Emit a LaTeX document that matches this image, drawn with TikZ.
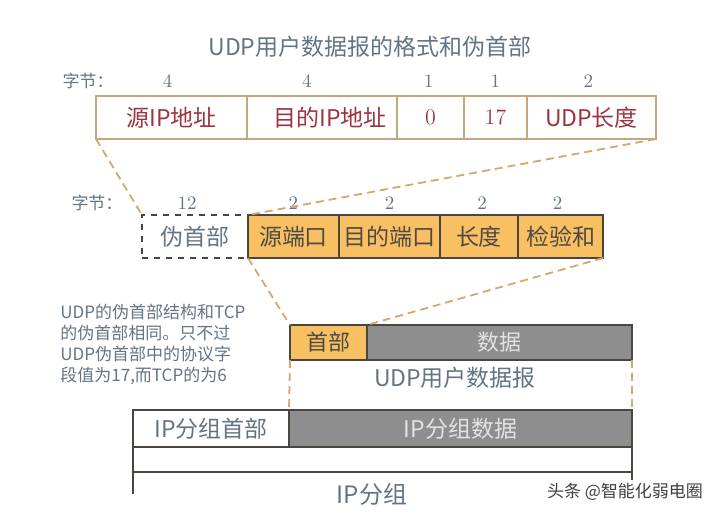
\documentclass[tikz,border=0pt]{standalone}
\usepackage{fontspec}
\newfontfamily\cjk{Noto Sans CJK SC}
\usetikzlibrary{positioning,calc}
\definecolor{titlegray}{HTML}{647482}
\definecolor{hdrred}{HTML}{9E3340}
\definecolor{cellborder}{HTML}{C4A77A}
\definecolor{udporange}{HTML}{F8C063}
\definecolor{boxline}{HTML}{4A4640}
\definecolor{celltext}{HTML}{4E4A44}
\definecolor{datagray}{HTML}{8E8E8E}
\definecolor{lighttext}{HTML}{E2E2E2}
\definecolor{zoomorange}{HTML}{D8A56A}

\begin{document}
\begin{tikzpicture}[x=0.5pt,y=-0.5pt]
        \tikzstyle {hdrcell} = [rectangle, draw=cellborder, line width=0.6pt, minimum height=21.5pt, inner sep=0pt, outer sep=0pt, text=hdrred, font=\cjk\fontsize{11.5}{13}\selectfont]
        \tikzstyle {pseudocell} = [rectangle, draw=boxline, dashed, line width=0.8pt, minimum height=21.5pt, inner sep=0pt, outer sep=0pt, text=titlegray, font=\cjk\fontsize{11.5}{13}\selectfont]
        \tikzstyle {udpcell} = [rectangle, draw=boxline, line width=0.6pt, fill=udporange, minimum height=21.5pt, inner sep=0pt, outer sep=0pt, text=celltext, font=\cjk\fontsize{11.5}{13}\selectfont]
        \tikzstyle {datacell} = [rectangle, draw=boxline, line width=1pt, fill=datagray, inner sep=0pt, outer sep=0pt, text=lighttext, font=\cjk\fontsize{11.5}{13}\selectfont]
        \tikzstyle {ipcell} = [rectangle, draw=boxline, line width=1pt, fill=white, inner sep=0pt, outer sep=0pt, text=titlegray, font=\cjk\fontsize{11.5}{13}\selectfont]
        \tikzstyle {bytelabel} = [text=titlegray, font=\cjk\fontsize{8.5}{10}\selectfont]
        \tikzstyle {bytenum} = [text=titlegray, font=\fontsize{9.5}{11}\selectfont]
        \tikzstyle {caption} = [text=titlegray, font=\cjk\fontsize{11.5}{13}\selectfont]
        \tikzstyle {zoomline} = [draw=zoomorange, dashed, dash pattern=on 4pt off 2.5pt, line width=0.9pt]
        \useasboundingbox (0,0) rectangle (725,519);
        % Titre
        \node (title) [text=titlegray, font=\cjk\fontsize{11.5}{14}\selectfont] at (370,47) {UDP用户数据报的格式和伪首部};
        % Pseudo-header fields
        \node (srcip) [hdrcell, minimum width=75.5pt, anchor=north west] at (96,96) {源IP地址\hspace{16pt}};
        \node (dstip) [hdrcell, minimum width=75pt, right=0pt of srcip] {\hspace{8pt}目的IP地址};
        \node (zero) [hdrcell, minimum width=33.5pt, right=0pt of dstip, font=\fontsize{11}{13}\selectfont] {0};
        \node (proto) [hdrcell, minimum width=31.5pt, right=0pt of zero, font=\fontsize{11}{13}\selectfont] {17};
        \node (udplen) [hdrcell, minimum width=64.5pt, right=0pt of proto] {UDP长度};
        \node (bytes1) [bytelabel] at (88,81) {字节：};
        \node (bsrcip) [bytenum] at (srcip.north |- bytes1) [xshift=-2pt] {4};
        \node (bdstip) [bytenum] at (dstip.north |- bytes1) [xshift=-7.5pt] {4};
        \node (bzero) [bytenum] at (zero.north |- bytes1) [xshift=-1pt] {1};
        \node (bproto) [bytenum] at (proto.north |- bytes1) {1};
        \node (budplen) [bytenum] at (udplen.north |- bytes1) [xshift=-1.5pt] {2};
        % UDP header
        \node (pseudo) [pseudocell, minimum width=53pt, anchor=north west] at (142,215) {伪首部};
        \node (srcport) [udpcell, minimum width=45.5pt, right=0pt of pseudo] {源端口};
        \node (dstport) [udpcell, minimum width=50.5pt, right=0pt of srcport] {目的端口};
        \node (len) [udpcell, minimum width=39pt, right=0pt of dstport] {长度};
        \node (chksum) [udpcell, minimum width=42.5pt, right=0pt of len] {检验和};
        \node (bytes2) [bytelabel] at (97,203) {字节：};
        \node (bpseudo) [bytenum] at (pseudo.north |- bytes2) [xshift=-4pt] {12};
        \node (bsrcport) [bytenum] at (srcport.north |- bytes2) {2};
        \node (bdstport) [bytenum] at (dstport.north |- bytes2) {2};
        \node (blen) [bytenum] at (len.north |- bytes2) [xshift=1.5pt] {2};
        \node (bchksum) [bytenum] at (chksum.north |- bytes2) [xshift=-1.5pt] {2};
        \draw[zoomline] (srcip.south west) -- (pseudo.north west);
        \draw[zoomline] (udplen.south east) -- (srcport.north west);
        % UDP datagram
        \node (udphdr) [udpcell, line width=1pt, minimum width=38.5pt, minimum height=17.5pt, anchor=north west, font=\cjk\fontsize{11}{13}\selectfont] at (290,325) {首部};
        \node (udpdata) [datacell, minimum width=132.5pt, minimum height=17.5pt, right=0pt of udphdr, font=\cjk\fontsize{11}{13}\selectfont] {数据\hspace{44pt}};
        \node (udplabel) [caption] at (455,378) {UDP用户数据报};
        \draw[zoomline] (srcport.south west) -- (udphdr.north west);
        \draw[zoomline] (chksum.south east) -- (udphdr.north east);
        \node (note) [text=titlegray, font=\cjk\fontsize{8.5}{10.5}\selectfont, align=left, anchor=west, inner sep=0pt] at (60,344) {UDP的伪首部结构和TCP\\的伪首部相同。只不过\\UDP伪首部中的协议字\\段值为17,而TCP的为6};
        % IP packet
        \node (iphdr) [ipcell, minimum width=78pt, minimum height=18.5pt, anchor=north west] at (133,410) {IP分组首部};
        \node (ipdata) [datacell, minimum width=171.5pt, minimum height=18.5pt, right=0pt of iphdr] {IP分组数据\hspace{8pt}};
        \draw[zoomline] (udphdr.south west) -- (iphdr.north east);
        \draw[zoomline] (udpdata.south east) -- (ipdata.north east);
        \coordinate (ipfloor) at (0,472);
        \draw[boxline, line width=0.8pt] (iphdr.south west) -- ++(0,47);
        \draw[boxline, line width=0.8pt] (ipdata.south east) -- ++(0,33);
        \draw[boxline, line width=0.8pt] (iphdr.south west |- ipfloor) -- (ipdata.south east |- ipfloor);
        \node (iplabel) [caption, font=\cjk\fontsize{12}{14}\selectfont] at (372,494) {IP分组};
        % watermark
        \node (mark) [text=black!75, font=\cjk\fontsize{8.5}{10}\selectfont] at (625,492) {头条 @智能化弱电圈};
    \end{tikzpicture}
\end{document}
